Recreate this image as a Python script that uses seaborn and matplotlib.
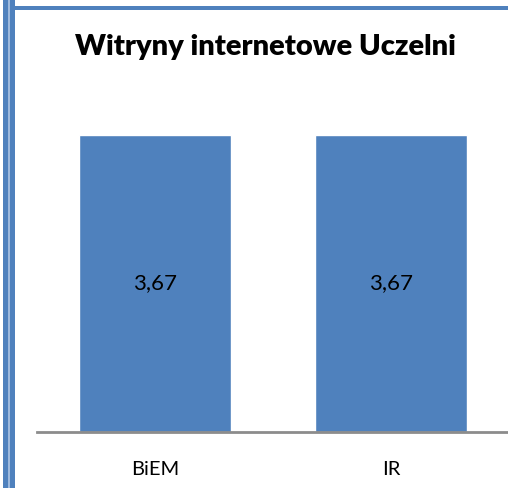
import matplotlib
matplotlib.use("Agg")
import matplotlib.pyplot as plt
import seaborn as sns
from matplotlib.patches import Rectangle

categories = ["BiEM", "IR"]
values = [3.67, 3.67]
value_labels = ["3,67", "3,67"]
title = "Witryny internetowe Uczelni"

sns.set_style("white")
plt.rcParams['font.family'] = ['Lato', 'DejaVu Sans']

W, H = 508, 488
fig = plt.figure(figsize=(W / 100, H / 100), dpi=100)
ax = fig.add_axes([37 / W, 56 / H, 472 / W, 323.7 / H])

sns.barplot(x=categories, y=values, color="#4F81BD", saturation=1,
            width=0.644, ax=ax)
ax.set_xlim(-0.5, 1.5)
ax.set_ylim(0, 4)

for i, lab in enumerate(value_labels):
    ax.text(i, values[i] / 2, lab, ha="center", va="center",
            fontsize=16, color="black")

ax.set_yticks([])
ax.tick_params(axis="x", length=0, pad=21, labelsize=14.5, labelcolor="black")
for s in ["top", "right", "left"]:
    ax.spines[s].set_visible(False)
ax.spines["bottom"].set_color("#8C8C8C")
ax.spines["bottom"].set_linewidth(2)

fig.text(265 / W, 1 - 47 / H, title, ha="center", va="center",
         fontsize=21, fontweight="heavy", color="black")

# frame remnants: double blue bar on the left, line at the top
fig.add_artist(Rectangle((3 / W, 0), 12 / W, 1, transform=fig.transFigure,
                         color="#4F81BD", lw=0))
fig.add_artist(Rectangle((8 / W, 0), 1.5 / W, 1, transform=fig.transFigure,
                         color="#9DB9DD", lw=0))
fig.add_artist(Rectangle((15 / W, 1 - 10 / H), 1, 4 / H, transform=fig.transFigure,
                         color="#4F81BD", lw=0))

fig.savefig("out.png", dpi=100)
